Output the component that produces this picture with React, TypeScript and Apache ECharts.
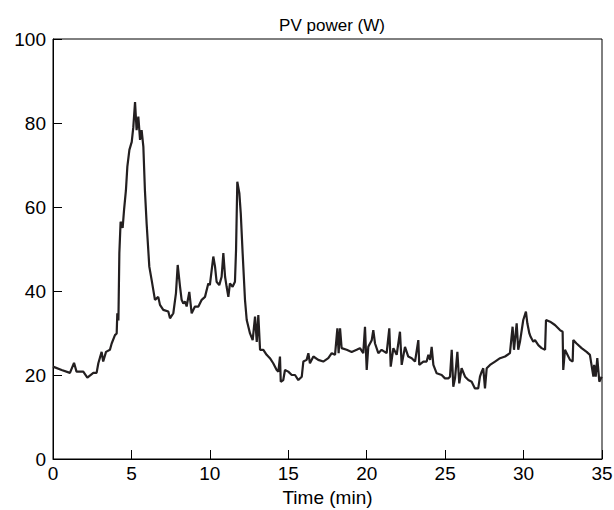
import React, { useEffect, useRef } from "react";
import * as echarts from "echarts";

const title = "PV power (W)";
const xAxisName = "Time (min)";
const xTicks = [0, 5, 10, 15, 20, 25, 30, 35];
const yTicks = [0, 20, 40, 60, 80, 100];

const timeMin = [
  0, 0.55, 1.08, 1.34, 1.5, 1.93, 2.19, 2.57, 2.78, 2.89, 3.1, 3.2, 3.38, 3.63, 3.74, 3.95, 4.06, 4.1, 4.17,
  4.23, 4.31, 4.44, 4.53, 4.65, 4.74, 4.87, 5.02, 5.12, 5.23, 5.33, 5.44, 5.55, 5.65, 5.76, 5.86, 5.97,
  6.14, 6.29, 6.5, 6.71, 6.82, 7.03, 7.35, 7.46, 7.67, 7.84, 7.95, 8.1, 8.2, 8.31, 8.42, 8.52, 8.69, 8.84,
  9.05, 9.27, 9.48, 9.69, 9.9, 10.0, 10.22, 10.33, 10.43, 10.6, 10.75, 10.86, 10.97, 11.07, 11.18, 11.28,
  11.45, 11.6, 11.67, 11.75, 11.88, 11.97, 12.09, 12.24, 12.35, 12.56, 12.73, 12.88, 12.99, 13.09, 13.2,
  13.41, 13.62, 13.83, 14.04, 14.26, 14.37, 14.47, 14.52, 14.68, 14.79, 15.0, 15.22, 15.43, 15.64, 15.86,
  15.96, 16.17, 16.28, 16.38, 16.6, 16.91, 17.23, 17.55, 17.77, 17.98, 18.13, 18.21, 18.3, 18.4, 18.72,
  19.04, 19.36, 19.57, 19.78, 19.89, 20.0, 20.1, 20.32, 20.42, 20.53, 20.74, 20.95, 21.27, 21.44, 21.53,
  21.7, 21.91, 22.12, 22.23, 22.44, 22.65, 22.87, 23.08, 23.29, 23.35, 23.61, 23.82, 23.93, 24.04, 24.14,
  24.25, 24.46, 24.78, 24.99, 25.2, 25.31, 25.42, 25.52, 25.63, 25.78, 25.9, 26.05, 26.27, 26.48, 26.69,
  26.9, 27.11, 27.22, 27.33, 27.43, 27.54, 27.65, 27.86, 28.18, 28.5, 28.82, 29.13, 29.3, 29.39, 29.56,
  29.66, 29.77, 29.98, 30.15, 30.24, 30.37, 30.45, 30.62, 30.73, 30.94, 31.15, 31.37, 31.43, 31.69, 32.0,
  32.32, 32.49, 32.53, 32.64, 32.96, 33.13, 33.17, 33.38, 33.7, 34.02, 34.23, 34.45, 34.5, 34.6, 34.7,
  34.83, 34.98
];

const powerW = [
  22.0, 21.2, 20.5, 22.9, 20.8, 20.8, 19.4, 20.5, 20.5, 22.8, 25.5, 23.2, 25.5, 26.0, 27.5, 29.5, 29.9, 34.7, 33.0,
  49.0, 56.5, 55.0, 59.3, 64.0, 69.6, 73.6, 75.5, 79.0, 85.0, 78.3, 81.5, 76.0, 78.3, 74.4, 64.0, 56.0,
  45.8, 42.6, 37.9, 38.6, 36.7, 35.5, 35.1, 33.5, 34.7, 39.5, 46.2, 41.0, 37.9, 37.0, 37.5, 36.3, 39.8, 34.7,
  36.3, 36.3, 37.9, 38.6, 41.8, 41.4, 48.2, 45.8, 42.2, 41.4, 43.4, 49.0, 43.4, 41.0, 38.6, 41.8,
  41.0, 42.2, 49.8, 66.0, 63.3, 58.5, 49.0, 37.9, 33.1, 29.9, 28.3, 33.9, 27.9, 34.3, 26.0,
  26.0, 24.8, 24.0, 22.8, 21.2, 20.8, 24.4, 18.4, 18.8, 21.2, 20.8, 20.0, 20.0, 18.8, 19.6,
  23.2, 23.6, 25.2, 22.8, 24.4, 23.6, 23.2, 24.0, 25.2, 24.8, 31.1, 25.2, 31.1, 26.4, 26.0,
  25.5, 26.0, 26.4, 25.2, 31.5, 21.2, 26.7, 28.3, 30.7, 27.5, 25.2, 26.0, 25.2, 31.1, 22.0,
  26.4, 24.8, 30.3, 22.4, 26.7, 24.4, 24.0, 23.2, 28.3, 22.4, 23.2, 23.2, 24.8, 23.6, 26.7,
  22.4, 20.4, 20.0, 19.2, 19.2, 19.6, 26.0, 17.2, 19.2, 25.5, 18.0, 21.6, 19.6, 18.8, 18.4,
  16.8, 16.8, 19.6, 20.8, 21.6, 16.8, 21.6, 22.4, 23.2, 24.0, 24.4, 25.2, 31.5, 26.0, 32.3,
  26.0, 27.9, 33.1, 35.1, 32.3, 29.9, 29.1, 27.9, 28.3, 27.1, 26.4, 26.0, 33.1, 32.7, 31.9,
  30.7, 30.3, 21.2, 26.0, 23.6, 23.2, 28.3, 27.5, 26.4, 25.5, 24.8, 19.6, 22.4, 19.6, 24.0,
  18.4, 19.6
];

export default function App() {
  const ref = useRef<HTMLDivElement>(null);
  useEffect(() => {
    if (!ref.current) return;
    const chart = echarts.init(ref.current, null, { renderer: "svg" });
    const data = timeMin.map((t, i) => [t, powerW[i]]);
    const font = "'Liberation Sans', Arial, sans-serif";
    chart.setOption({
      animation: false,
      title: {
        text: title,
        left: 327,
        top: 12,
        textAlign: "center",
        textStyle: { fontFamily: font, fontSize: 17, fontWeight: "normal", color: "#000" },
      },
      grid: {
        left: 53,
        top: 39,
        right: 12,
        bottom: 51,
        containLabel: false,
        outerBoundsMode: "none",
        show: true,
        borderColor: "#000",
        borderWidth: 1,
      },
      xAxis: {
        type: "value",
        min: xTicks[0],
        max: xTicks[xTicks.length - 1],
        interval: 5,
        name: xAxisName,
        nameLocation: "middle",
        nameGap: 26,
        nameTextStyle: { fontFamily: font, fontSize: 19, color: "#000" },
        axisLine: { show: true, lineStyle: { color: "#000", width: 1 } },
        axisTick: { show: true, inside: true, length: 9, lineStyle: { color: "#000" } },
        axisLabel: { fontFamily: font, fontSize: 19, color: "#000", margin: 5 },
        splitLine: { show: false },
      },
      yAxis: {
        type: "value",
        min: yTicks[0],
        max: yTicks[yTicks.length - 1],
        interval: 20,
        axisLine: { show: true, lineStyle: { color: "#000", width: 1 } },
        axisTick: { show: true, inside: true, length: 9, lineStyle: { color: "#000" } },
        axisLabel: { fontFamily: font, fontSize: 19, color: "#000", margin: 7 },
        splitLine: { show: false },
      },
      series: [
        {
          type: "line",
          data,
          showSymbol: false,
          symbol: "none",
          lineStyle: { color: "#231f20", width: 2.2 },
        },
      ],
    });
    return () => chart.dispose();
  }, []);
  return <div ref={ref} style={{ width: 614, height: 510, position: "absolute", left: 0, top: 0 }} />;
}
